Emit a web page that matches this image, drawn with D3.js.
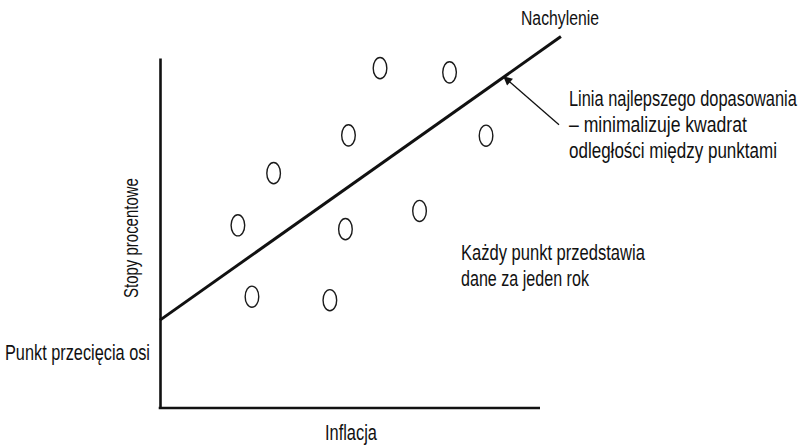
<!DOCTYPE html>
<html>
<head>
<meta charset="utf-8">
<script src="https://cdn.jsdelivr.net/npm/d3@7/dist/d3.min.js"></script>
<style>
  html, body { margin: 0; padding: 0; background: #fff; }
  svg text { font-family: "Liberation Sans", Arial, sans-serif; fill: #111; }
</style>
</head>
<body>
<svg id="chart" width="802" height="446"></svg>
<script>
// Data (abstract units: inflation vs. interest rates)
const inflation = [5.79, 7.62, 4.96, 8.58, 2.99, 2.05, 4.88, 6.83, 2.42, 4.47];
const interestRates = [9.71, 9.59, 7.79, 7.78, 6.71, 5.22, 5.11, 5.63, 3.18, 3.08];
const fitX = [0, 10.55];
const fitIntercept = 2.51;
const fitSlope = 0.768;
const arrowFrom = [10.5, 8.09];
const arrowTo = [9.05, 9.46];
const xDomain = [0, 10];
const yDomain = [0, 10];
const xTitle = "Inflacja";
const yTitle = "Stopy procentowe";
const slopeLabel = "Nachylenie";
const interceptLabel = "Punkt przecięcia osi";
const fitLabel = ["Linia najlepszego dopasowania", "– minimalizuje kwadrat", "odległości między punktami"];
const pointLabel = ["Każdy punkt przedstawia", "dane za jeden rok"];

const svg = d3.select("#chart");
const x = d3.scaleLinear().domain(xDomain).range([160, 540]);
const y = d3.scaleLinear().domain(yDomain).range([408, 58]);

// Axes (no ticks)
const gx = svg.append("g").attr("transform", `translate(0,${y(0)})`)
  .call(d3.axisBottom(x).tickValues([]).tickSizeOuter(0));
const gy = svg.append("g").attr("transform", `translate(${x(0)},0)`)
  .call(d3.axisLeft(y).tickValues([]).tickSizeOuter(0));
svg.selectAll(".domain").attr("stroke", "#111").attr("stroke-width", 2.6);
gx.select(".domain").attr("d", `M${x(0) - 1.3},0H${x(10)}`);

// Fit line
const fitData = fitX.map(v => [v, fitIntercept + fitSlope * v]);
svg.append("path")
  .datum(fitData)
  .attr("d", d3.line().x(d => x(d[0])).y(d => y(d[1])))
  .attr("fill", "none").attr("stroke", "#111").attr("stroke-width", 3);

// Points
svg.selectAll("ellipse.pt")
  .data(inflation.map((v, i) => [v, interestRates[i]]))
  .join("ellipse")
  .attr("class", "pt")
  .attr("cx", d => x(d[0])).attr("cy", d => y(d[1]))
  .attr("rx", 6.8).attr("ry", 10.6)
  .attr("fill", "none").attr("stroke", "#1a1a1a").attr("stroke-width", 1.4);

// Arrow
svg.append("defs").append("marker")
  .attr("id", "ah").attr("viewBox", "0 0 10 10")
  .attr("refX", 9).attr("refY", 5)
  .attr("markerWidth", 11).attr("markerHeight", 9)
  .attr("markerUnits", "userSpaceOnUse")
  .attr("orient", "auto")
  .append("path").attr("d", "M0,0L10,5L0,10Z").attr("fill", "#111");
svg.append("line")
  .attr("x1", x(arrowFrom[0])).attr("y1", y(arrowFrom[1]))
  .attr("x2", x(arrowTo[0])).attr("y2", y(arrowTo[1]))
  .attr("stroke", "#111").attr("stroke-width", 1.3)
  .attr("marker-end", "url(#ah)");

// Texts, horizontally condensed to match the reference's narrow typeface
function txt(s, tx, ty, w, size, rot) {
  const t = svg.append("text").attr("font-size", size).text(s);
  const nat = t.node().getComputedTextLength();
  const sx = w / nat;
  t.attr("transform", `translate(${tx},${ty})${rot ? " rotate(" + rot + ")" : ""} scale(${sx},1)`);
  return t;
}
txt(slopeLabel, 521, 25, 78, 21);
txt(fitLabel[0], 569, 106, 228, 22);
txt(fitLabel[1], 569, 132, 178, 22);
txt(fitLabel[2], 569, 158, 208, 22);
txt(pointLabel[0], 461, 260, 184, 22);
txt(pointLabel[1], 461, 286, 128, 22);
txt(interceptLabel, 5, 360, 145, 22);
txt(xTitle, 325, 440, 52, 22);
txt(yTitle, 138, 298, 120, 21, -90);
</script>
</body>
</html>
